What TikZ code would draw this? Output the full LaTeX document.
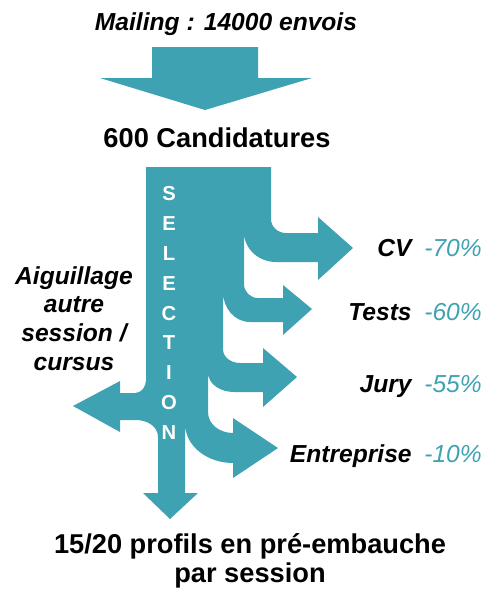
\documentclass[tikz,border=0pt]{standalone}
\usepackage{fontspec}
\setmainfont{Liberation Sans}
\definecolor{teal1}{HTML}{3EA2B2}
\begin{document}
\begin{tikzpicture}[x=0.02cm,y=0.02cm,
  lbl/.style={font=\fontsize{14}{16}\selectfont\bfseries\itshape, inner sep=0pt},
  pct/.style={font=\fontsize{14}{16}\selectfont\itshape, text=teal1, inner sep=0pt},
  big/.style={font=\fontsize{15.5}{16.4}\selectfont\bfseries, inner sep=0pt}]
\useasboundingbox (0,0) rectangle (497,-596);
% top arrow
\fill[teal1] (152,-47) -- (258,-47) -- (258,-78) -- (312,-78) -- (205,-110)
  -- (100,-78) -- (152,-78) -- cycle;
% selection shape
\fill[teal1] (146,-167) -- (271,-167) -- (271,-219)
  to[out=-90,in=180] (286,-233) -- (318,-233) -- (318,-217) -- (353,-248)
  -- (318,-280) -- (318,-262) -- (276,-262)
  to[out=180,in=-90] (244,-232) -- (244,-284)
  to[out=-90,in=180] (258,-298) -- (283,-298) -- (283,-285) -- (312,-309)
  -- (283,-335) -- (283,-322) -- (250,-322)
  to[out=180,in=-90] (223,-292) -- (223,-349)
  to[out=-90,in=180] (240,-363) -- (263,-363) -- (263,-348) -- (297,-377)
  -- (263,-407) -- (263,-392) -- (234,-392)
  to[out=180,in=-90] (208,-372) -- (208,-412)
  to[out=-90,in=180] (233,-433) -- (233,-418) -- (278,-448)
  -- (233,-478) -- (233,-463)
  to[out=180,in=-90] (185,-423) -- (185,-493) -- (198,-493) -- (170,-519)
  -- (143,-493) -- (158,-493) -- (158,-437)
  to[out=90,in=0] (136,-420) -- (120,-420) -- (120,-432) -- (73,-406)
  -- (120,-381) -- (120,-393) -- (135,-393)
  to[out=0,in=-90] (146,-380) -- cycle;
% texts
\node[lbl, anchor=base] (mail) at (226,-30) {Mailing : 14000 envois};
\node[big, anchor=base] (cand) at (217,-147) {600 Candidatures};
\node[align=center, text=white, inner sep=0pt,
  font=\fontsize{11.5}{17}\selectfont\bfseries] (sel) at (169,-313)
  {S\\E\\L\\E\\C\\T\\I\\O\\N};
\node[lbl, anchor=base east] (cv) at (412,-256) {CV};
\node[pct, anchor=base west] (cvp) at (424,-256) {-70\%};
\node[lbl, anchor=base east] (tests) at (412,-320) {Tests};
\node[pct, anchor=base west] (testsp) at (424,-320) {-60\%};
\node[lbl, anchor=base east] (jury) at (412,-392) {Jury};
\node[pct, anchor=base west] (juryp) at (424,-392) {-55\%};
\node[lbl, anchor=base east] (ent) at (412,-462) {Entreprise};
\node[pct, anchor=base west] (entp) at (424,-462) {-10\%};
\node[lbl, anchor=base, align=center, font=\fontsize{14}{16.3}\selectfont\bfseries\itshape]
  (aig) at (74,-370) {Aiguillage\\autre\\session /\\cursus};
\node[big, anchor=base, align=center, font=\fontsize{15.5}{16.4}\selectfont\bfseries]
  (fin) at (250,-582) {15/20 profils en pré-embauche\\par session};
\end{tikzpicture}
\end{document}
